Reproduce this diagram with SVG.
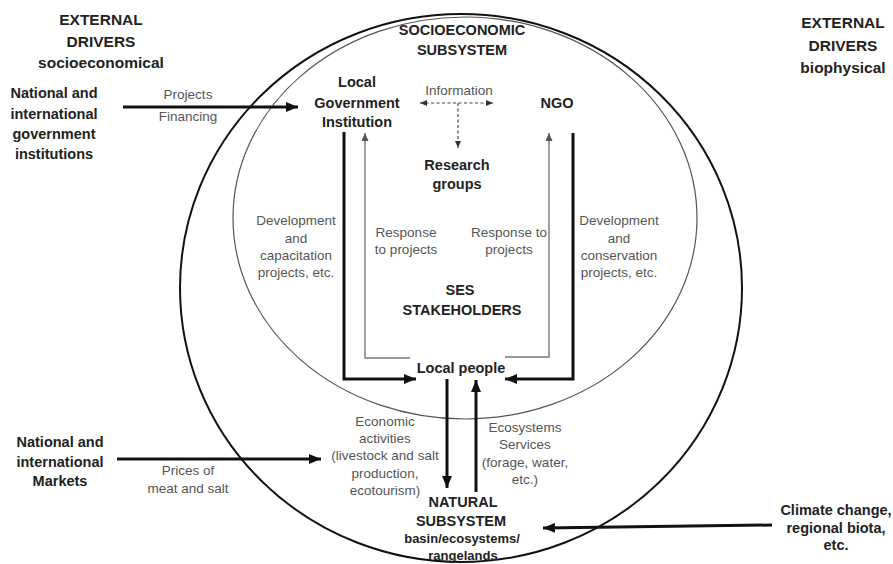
<svg xmlns="http://www.w3.org/2000/svg" width="893" height="564" viewBox="0 0 893 564">
<style>
.b{font-family:"Liberation Sans",Arial,sans-serif;font-weight:bold;font-size:14.5px;fill:#222;text-anchor:middle}
.h{font-family:"Liberation Sans",Arial,sans-serif;font-weight:bold;font-size:15.5px;fill:#222;text-anchor:middle}
.r{font-family:"Liberation Sans",Arial,sans-serif;font-size:13.5px;fill:#555;text-anchor:middle}
.thick{fill:none;stroke:#111;stroke-width:3}
.thin{fill:none;stroke:#777;stroke-width:1.4}
.dash{fill:none;stroke:#444;stroke-width:1.2;stroke-dasharray:3 2.5}
</style>
<defs>
<marker id="ah" markerUnits="userSpaceOnUse" markerWidth="12" markerHeight="10" refX="12" refY="5" orient="auto">
<path d="M0,0 L12,5 L0,10 z" fill="#111"/>
</marker>
<marker id="at" markerUnits="userSpaceOnUse" markerWidth="8" markerHeight="7" refX="8" refY="3.5" orient="auto">
<path d="M0,0 L8,3.5 L0,7 z" fill="#555"/>
</marker>
<marker id="ad" markerUnits="userSpaceOnUse" markerWidth="7" markerHeight="6" refX="7" refY="3" orient="auto-start-reverse">
<path d="M0,0 L7,3 L0,6 z" fill="#333"/>
</marker>
</defs>
<rect width="893" height="564" fill="#fff"/>

<g id="systems">
<ellipse id="outer" cx="461" cy="288" rx="281" ry="274" fill="none" stroke="#111" stroke-width="2"/>
<ellipse id="inner" cx="465" cy="218" rx="232" ry="201" fill="none" stroke="#555" stroke-width="1.2"/>
</g>

<g id="connectors">
<line class="thick" x1="123" y1="107" x2="298" y2="107" marker-end="url(#ah)"/>
<line class="thick" x1="117" y1="459" x2="321" y2="459" marker-end="url(#ah)"/>
<line class="thick" x1="772" y1="525" x2="543" y2="528" marker-end="url(#ah)"/>
<path class="thick" d="M344,132 V379 H416" marker-end="url(#ah)"/>
<path class="thick" d="M573,133 V379 H505" marker-end="url(#ah)"/>
<path class="thin" d="M410,358 H365 V133" marker-end="url(#at)"/>
<path class="thin" d="M505,357 H549 V133" marker-end="url(#at)"/>
<line class="thick" x1="447" y1="379" x2="447" y2="488" marker-end="url(#ah)"/>
<line class="thick" x1="476" y1="492" x2="476" y2="380" marker-end="url(#ah)"/>
<line class="dash" x1="420" y1="103" x2="493" y2="103" marker-start="url(#ad)" marker-end="url(#ad)"/>
<line class="dash" x1="458" y1="103" x2="458" y2="148" marker-end="url(#ad)"/>
</g>

<g id="ext-socio">
<text class="h" x="101" y="25">EXTERNAL</text>
<text class="h" x="101" y="47">DRIVERS</text>
<text class="h" x="101" y="68">socioeconomical</text>
</g>
<g id="ext-bio">
<text class="h" x="843" y="28">EXTERNAL</text>
<text class="h" x="843" y="51">DRIVERS</text>
<text class="h" x="843" y="73">biophysical</text>
</g>
<g id="nat-gov">
<text class="b" x="54" y="98">National and</text>
<text class="b" x="54" y="119">international</text>
<text class="b" x="54" y="139">government</text>
<text class="b" x="54" y="159">institutions</text>
</g>
<g id="proj-label">
<text class="r" x="188" y="99">Projects</text>
<text class="r" x="188" y="121">Financing</text>
</g>
<g id="socio-subsystem">
<text class="b" x="462" y="35">SOCIOECONOMIC</text>
<text class="b" x="462" y="55">SUBSYSTEM</text>
</g>
<g id="local-gov">
<text class="b" x="357" y="87">Local</text>
<text class="b" x="357" y="108">Government</text>
<text class="b" x="357" y="127">Institution</text>
</g>
<g id="information">
<text class="r" x="459" y="95">Information</text>
</g>
<g id="ngo">
<text class="b" x="557" y="108">NGO</text>
</g>
<g id="research">
<text class="b" x="457" y="170">Research</text>
<text class="b" x="457" y="189">groups</text>
</g>
<g id="dev-left">
<text class="r" x="296" y="225">Development</text>
<text class="r" x="296" y="243">and</text>
<text class="r" x="296" y="260">capacitation</text>
<text class="r" x="296" y="277">projects, etc.</text>
</g>
<g id="resp-left">
<text class="r" x="406" y="237">Response</text>
<text class="r" x="406" y="254">to projects</text>
</g>
<g id="resp-right">
<text class="r" x="509" y="237">Response to</text>
<text class="r" x="509" y="254">projects</text>
</g>
<g id="dev-right">
<text class="r" x="619" y="225">Development</text>
<text class="r" x="619" y="243">and</text>
<text class="r" x="619" y="260">conservation</text>
<text class="r" x="619" y="277">projects, etc.</text>
</g>
<g id="ses">
<text class="b" x="460" y="295">SES</text>
<text class="b" x="462" y="315">STAKEHOLDERS</text>
</g>
<g id="local-people">
<text class="b" x="461" y="373">Local people</text>
</g>
<g id="economic">
<text class="r" x="385" y="426">Economic</text>
<text class="r" x="385" y="443">activities</text>
<text class="r" x="385" y="460">(livestock and salt</text>
<text class="r" x="385" y="478">production,</text>
<text class="r" x="385" y="495">ecotourism)</text>
</g>
<g id="ecoservices">
<text class="r" x="525" y="432">Ecosystems</text>
<text class="r" x="525" y="449">Services</text>
<text class="r" x="525" y="467">(forage, water,</text>
<text class="r" x="525" y="484">etc.)</text>
</g>
<g id="natural">
<text class="b" x="463" y="507">NATURAL</text>
<text class="b" x="461" y="526">SUBSYSTEM</text>
<text class="b" x="462" y="543" style="font-size:13px">basin/ecosystems/</text>
<text class="b" x="463" y="560" style="font-size:13px">rangelands</text>
</g>
<g id="markets">
<text class="b" x="60" y="447">National and</text>
<text class="b" x="60" y="467">international</text>
<text class="b" x="60" y="486">Markets</text>
</g>
<g id="prices">
<text class="r" x="188" y="475">Prices of</text>
<text class="r" x="188" y="493">meat and salt</text>
</g>
<g id="climate">
<text class="b" x="836" y="515">Climate change,</text>
<text class="b" x="836" y="533">regional biota,</text>
<text class="b" x="836" y="550">etc.</text>
</g>
</svg>
